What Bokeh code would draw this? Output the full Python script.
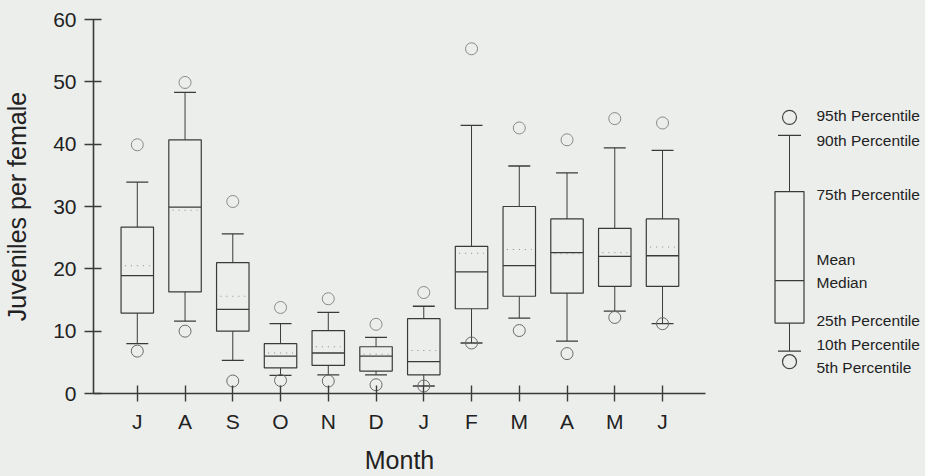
from bokeh.plotting import figure
from bokeh.layouts import row
from bokeh.models import Range1d, FixedTicker, ColumnDataSource
from bokeh.embed import file_html
from bokeh.resources import INLINE
from bokeh.core.properties import value

# ---- data ----
months = ["J", "A", "S", "O", "N", "D", "J", "F", "M", "A", "M", "J"]
p5 = [6.8, 10.0, 2.0, 2.1, 2.0, 1.4, 1.2, 8.1, 10.1, 6.4, 12.2, 11.2]
p10 = [8.0, 11.6, 5.3, 2.9, 3.0, 3.0, 1.2, 8.1, 12.1, 8.4, 13.2, 11.2]
q1 = [12.9, 16.3, 10.0, 4.1, 4.5, 3.6, 3.0, 13.6, 15.6, 16.1, 17.2, 17.2]
median = [18.9, 29.9, 13.5, 6.0, 6.5, 6.0, 5.1, 19.5, 20.5, 22.6, 22.0, 22.1]
mean = [20.5, 29.4, 15.6, 6.5, 7.5, 6.3, 6.9, 22.5, 23.1, 22.4, 22.6, 23.5]
q3 = [26.7, 40.7, 21.0, 8.0, 10.1, 7.5, 12.0, 23.6, 30.0, 28.0, 26.5, 28.0]
p90 = [33.9, 48.3, 25.6, 11.2, 13.0, 9.0, 14.0, 43.0, 36.5, 35.4, 39.4, 39.0]
p95 = [39.9, 49.9, 30.8, 13.8, 15.2, 11.1, 16.2, 55.3, 42.6, 40.7, 44.1, 43.4]
y_ticks = [0, 10, 20, 30, 40, 50, 60]

# legend sample box
legend_stats = {"p5": 5.1, "p10": 6.8, "q1": 11.3, "median": 18.1, "q3": 32.4, "p90": 41.4, "p95": 44.3}
legend_labels = ["95th Percentile", "90th Percentile", "75th Percentile", "Mean", "Median",
                 "25th Percentile", "10th Percentile", "5th Percentile"]
legend_label_y = [44.6, 40.6, 31.9, 21.5, 17.8, 11.7, 7.9, 4.2]

BG = "#eceeec"
INK = "#3a3a3a"
TXT = "#222222"
FONT = "Liberation Sans"

x = list(range(len(months)))
box_w = 0.68
cap_w = 0.46

src = ColumnDataSource(dict(
    x=x, p5=p5, p10=p10, q1=q1, median=median, mean=mean, q3=q3, p90=p90, p95=p95,
    bl=[i - box_w / 2 for i in x], br=[i + box_w / 2 for i in x],
    cl=[i - cap_w / 2 for i in x], cr=[i + cap_w / 2 for i in x],
    ml=[i - box_w / 2 + 0.08 for i in x], mr=[i + box_w / 2 - 0.08 for i in x],
))

yr = Range1d(0, 60)
xr = Range1d(-0.917, 11.9)
p = figure(width=720, height=476, x_range=xr, y_range=yr,
           output_backend="svg", toolbar_location=None,
           min_border_left=90, min_border_right=15, min_border_top=19, min_border_bottom=83,
           background_fill_color=BG, border_fill_color=BG)
p.outline_line_color = None
p.grid.visible = False

# whiskers
p.segment(x0="x", y0="q3", x1="x", y1="p90", source=src, line_color=INK, line_width=1)
p.segment(x0="x", y0="q1", x1="x", y1="p10", source=src, line_color=INK, line_width=1)
# caps
p.segment(x0="cl", y0="p90", x1="cr", y1="p90", source=src, line_color=INK, line_width=1.3)
p.segment(x0="cl", y0="p10", x1="cr", y1="p10", source=src, line_color=INK, line_width=1.3)
# boxes
p.quad(left="bl", right="br", bottom="q1", top="q3", source=src,
       fill_color=None, line_color=INK, line_width=1.2)
# median
p.segment(x0="bl", y0="median", x1="br", y1="median", source=src, line_color=INK, line_width=1.3)
# mean (dotted)
p.segment(x0="ml", y0="mean", x1="mr", y1="mean", source=src, line_color="#888888",
          line_width=1, line_dash="1 5")
# outliers (5th / 95th)
p.scatter(x="x", y="p95", source=src, marker="circle", size=12, fill_color=None,
          line_color="#8a8a8a", line_width=1)
p.scatter(x="x", y="p5", source=src, marker="circle", size=12, fill_color=None,
          line_color="#6a6a6a", line_width=1)

# axes
p.xaxis.ticker = FixedTicker(ticks=x)
p.xaxis.major_label_overrides = {i: m for i, m in zip(x, months)}
p.yaxis.ticker = FixedTicker(ticks=y_ticks)
for ax in (p.xaxis, p.yaxis):
    ax.axis_line_color = INK
    ax.axis_line_width = 1.6
    ax.major_tick_line_color = INK
    ax.major_tick_line_width = 1.4
    ax.minor_tick_line_color = None
    ax.major_label_text_font = FONT
    ax.major_label_text_font_size = "21px"
    ax.major_label_text_color = TXT
    ax.axis_label_text_font = FONT
    ax.axis_label_text_font_size = "25px"
    ax.axis_label_text_font_style = "normal"
    ax.axis_label_text_color = TXT
p.xaxis.major_tick_in = 8
p.xaxis.major_tick_out = 8
p.yaxis.major_tick_in = 8
p.yaxis.major_tick_out = 9
p.xaxis.major_label_standoff = 8
p.yaxis.major_label_standoff = 8
p.yaxis.axis_label = "Juveniles per female"
p.yaxis.axis_label_standoff = 19
p.xaxis.axis_label = "Month"
p.xaxis.axis_label_standoff = 10

# ---- legend panel ----
lg = figure(width=205, height=476, x_range=Range1d(0, 205), y_range=yr,
            output_backend="svg", toolbar_location=None,
            min_border_left=0, min_border_right=0, min_border_top=19, min_border_bottom=83,
            background_fill_color=BG, border_fill_color=BG)
lg.outline_line_color = None
lg.grid.visible = False
lg.axis.visible = False

cx = 69
s = legend_stats
lg.segment(x0=[cx, cx], y0=[s["q3"], s["q1"]], x1=[cx, cx], y1=[s["p90"], s["p10"]],
           line_color=INK, line_width=1)
lg.segment(x0=[cx - 11.5, cx - 11.5], y0=[s["p90"], s["p10"]], x1=[cx + 11.5, cx + 11.5],
           y1=[s["p90"], s["p10"]], line_color=INK, line_width=1.3)
lg.quad(left=[cx - 14.5], right=[cx + 14.5], bottom=[s["q1"]], top=[s["q3"]],
        fill_color=None, line_color=INK, line_width=1.2)
lg.segment(x0=[cx - 14.5], y0=[s["median"]], x1=[cx + 14.5], y1=[s["median"]],
           line_color=INK, line_width=1.2)
lg.scatter(x=[cx, cx], y=[s["p95"], s["p5"]], marker="circle", size=14, fill_color=None,
           line_color="#444444", line_width=1.2)
lg.text(x=[96] * len(legend_labels), y=legend_label_y, text=legend_labels,
        text_font=value(FONT), text_font_size="15.5px", text_color=TXT,
        text_baseline="middle", text_align="left")

layout = row(p, lg, styles={"background-color": BG})
html = file_html(layout, INLINE)
html = html.replace("<body>", '<body style="background-color:%s">' % BG)
open("out.html", "w").write(html)
